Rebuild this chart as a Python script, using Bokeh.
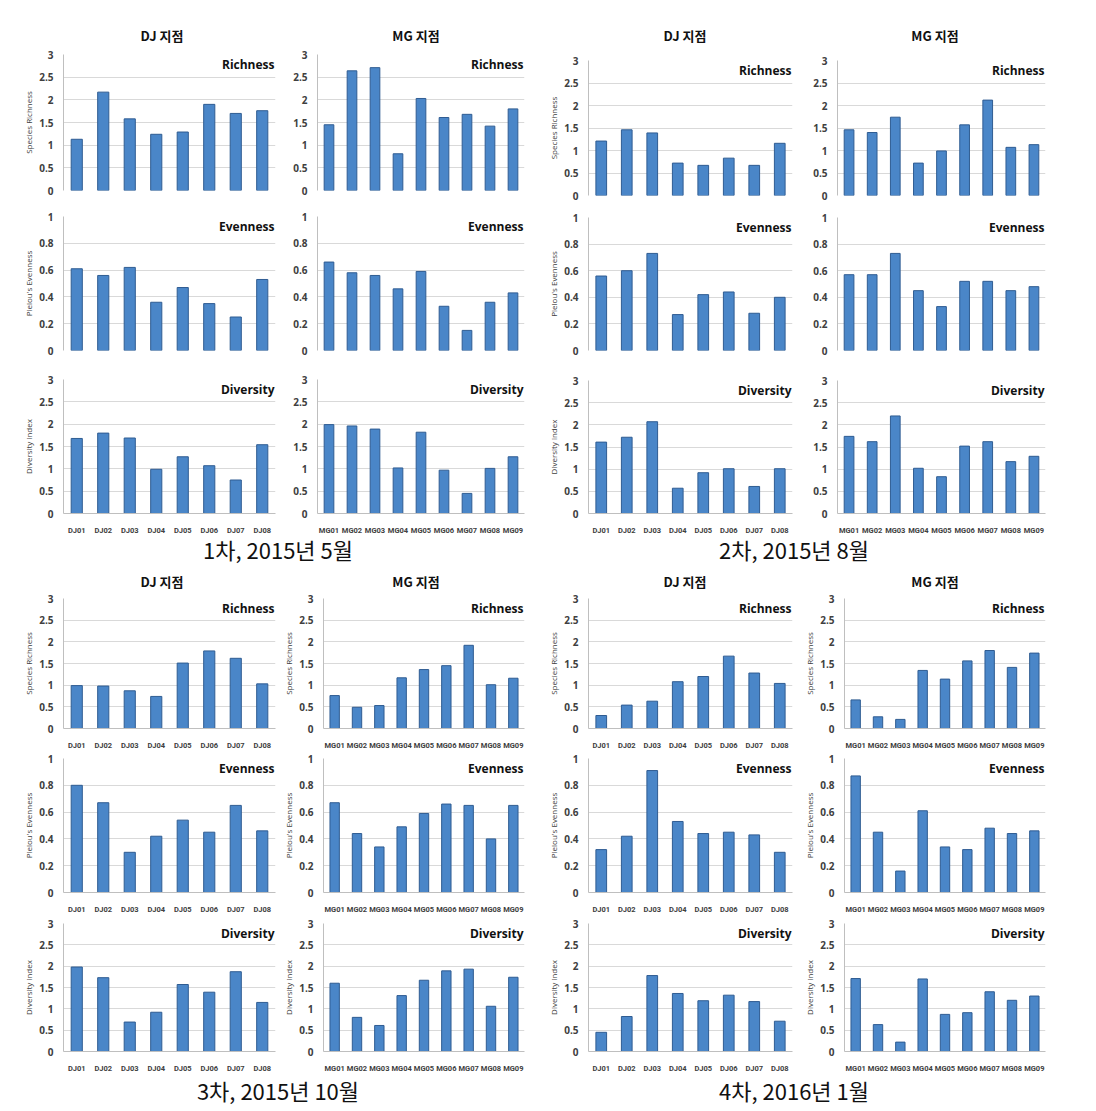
from bokeh.plotting import figure
from bokeh.layouts import column, row
from bokeh.models import (Range1d, FactorRange, FixedTicker, CustomJSTickFormatter,
                          Label, Div, Spacer, ColumnDataSource)
from bokeh.embed import file_html
from bokeh.resources import INLINE

# ---------------- data ----------------
DJ_SITES = ["DJ01", "DJ02", "DJ03", "DJ04", "DJ05", "DJ06", "DJ07", "DJ08"]
MG_SITES = ["MG01", "MG02", "MG03", "MG04", "MG05", "MG06", "MG07", "MG08", "MG09"]

METRICS = ["Richness", "Evenness", "Diversity"]
Y_LABELS = ["Species Richness", "Pielou's Evenness", "Diversity index"]
SITE_TITLES = ["DJ 지점", "MG 지점"]
CAPTIONS = ["1차, 2015년 5월", "2차, 2015년 8월", "3차, 2015년 10월", "4차, 2016년 1월"]

RICH_TICKS = [0, 0.5, 1, 1.5, 2, 2.5, 3]
EVEN_TICKS = [0, 0.2, 0.4, 0.6, 0.8, 1]

# 1st survey, 2015-05
s1_dj_richness = [1.13, 2.17, 1.58, 1.24, 1.29, 1.90, 1.70, 1.76]
s1_mg_richness = [1.45, 2.64, 2.71, 0.81, 2.03, 1.61, 1.68, 1.42, 1.80]
s1_dj_evenness = [0.61, 0.56, 0.62, 0.36, 0.47, 0.35, 0.25, 0.53]
s1_mg_evenness = [0.66, 0.58, 0.56, 0.46, 0.59, 0.33, 0.15, 0.36, 0.43]
s1_dj_diversity = [1.68, 1.80, 1.69, 0.99, 1.27, 1.07, 0.75, 1.54]
s1_mg_diversity = [1.99, 1.96, 1.89, 1.02, 1.82, 0.97, 0.45, 1.01, 1.27]

# 2nd survey, 2015-08
s2_dj_richness = [1.21, 1.46, 1.39, 0.72, 0.67, 0.83, 0.67, 1.16]
s2_mg_richness = [1.46, 1.40, 1.74, 0.72, 0.99, 1.57, 2.12, 1.07, 1.13]
s2_dj_evenness = [0.56, 0.60, 0.73, 0.27, 0.42, 0.44, 0.28, 0.40]
s2_mg_evenness = [0.57, 0.57, 0.73, 0.45, 0.33, 0.52, 0.52, 0.45, 0.48]
s2_dj_diversity = [1.61, 1.72, 2.07, 0.57, 0.92, 1.01, 0.61, 1.01]
s2_mg_diversity = [1.74, 1.62, 2.20, 1.02, 0.83, 1.52, 1.62, 1.17, 1.29]

# 3rd survey, 2015-10
s3_dj_richness = [0.99, 0.98, 0.87, 0.74, 1.51, 1.79, 1.62, 1.03]
s3_mg_richness = [0.76, 0.49, 0.53, 1.17, 1.36, 1.45, 1.92, 1.01, 1.16]
s3_dj_evenness = [0.80, 0.67, 0.30, 0.42, 0.54, 0.45, 0.65, 0.46]
s3_mg_evenness = [0.67, 0.44, 0.34, 0.49, 0.59, 0.66, 0.65, 0.40, 0.65]
s3_dj_diversity = [1.98, 1.73, 0.69, 0.92, 1.57, 1.39, 1.87, 1.15]
s3_mg_diversity = [1.60, 0.80, 0.61, 1.31, 1.67, 1.89, 1.93, 1.06, 1.74]

# 4th survey, 2016-01
s4_dj_richness = [0.30, 0.54, 0.63, 1.08, 1.20, 1.67, 1.28, 1.04]
s4_mg_richness = [0.66, 0.27, 0.21, 1.34, 1.14, 1.56, 1.80, 1.41, 1.74]
s4_dj_evenness = [0.32, 0.42, 0.91, 0.53, 0.44, 0.45, 0.43, 0.30]
s4_mg_evenness = [0.87, 0.45, 0.16, 0.61, 0.34, 0.32, 0.48, 0.44, 0.46]
s4_dj_diversity = [0.45, 0.82, 1.78, 1.36, 1.19, 1.32, 1.17, 0.71]
s4_mg_diversity = [1.71, 0.63, 0.22, 1.70, 0.87, 0.91, 1.40, 1.20, 1.30]

SURVEYS = [
    {"dj": [s1_dj_richness, s1_dj_evenness, s1_dj_diversity],
     "mg": [s1_mg_richness, s1_mg_evenness, s1_mg_diversity]},
    {"dj": [s2_dj_richness, s2_dj_evenness, s2_dj_diversity],
     "mg": [s2_mg_richness, s2_mg_evenness, s2_mg_diversity]},
    {"dj": [s3_dj_richness, s3_dj_evenness, s3_dj_diversity],
     "mg": [s3_mg_richness, s3_mg_evenness, s3_mg_diversity]},
    {"dj": [s4_dj_richness, s4_dj_evenness, s4_dj_diversity],
     "mg": [s4_mg_richness, s4_mg_evenness, s4_mg_diversity]},
]

# ---------------- style ----------------
BAR_FILL = "#4A86C8"
BAR_LINE = "#2F5C92"
GRID = "#D9D9D9"
AXIS = "#BFBFBF"
TXT = "#404040"
FONT = "Open Sans"
XFONT = "Roboto"
KFONT = "Noto Sans CJK KR"

# horizontal specs (width, min_border_left, min_border_right) for DJ, MG
HSPEC = {
    "left": [(280, 63, 5), (265, 37, 21)],
    "right": [(256, 39, 9), (295, 36, 51)],
}
# vertical specs per survey: (height, border_top, border_bottom) per metric
VSPEC = [
    [(157, 8, 13), (162, 13, 15), (172, 14, 24)],
    [(159, 14, 10), (161, 12, 16), (171, 14, 24)],
    [(160, 6, 18), (164, 6, 18), (159, 7, 18)],
    [(160, 6, 18), (164, 6, 18), (159, 7, 18)],
]


def panel(sites, vals, mi, w, h, bl, br, bt, bb, show_x, ylabel):
    metric = METRICS[mi]
    ticks = EVEN_TICKS if metric == "Evenness" else RICH_TICKS
    ymax = ticks[-1]
    p = figure(x_range=FactorRange(*sites), y_range=Range1d(0, ymax),
               width=w, height=h, output_backend="svg", toolbar_location=None,
               min_border_left=bl, min_border_right=br,
               min_border_top=bt, min_border_bottom=bb)
    p.outline_line_color = None
    p.background_fill_color = "white"
    p.border_fill_color = "white"
    src = ColumnDataSource(dict(site=sites, v=vals))
    p.vbar(x="site", top="v", width=0.42, source=src,
           fill_color=BAR_FILL, line_color=BAR_LINE, line_width=1)

    p.xgrid.visible = False
    p.ygrid.ticker = FixedTicker(ticks=ticks)
    p.ygrid.grid_line_color = GRID
    p.ygrid.grid_line_width = 1

    ya = p.yaxis[0]
    ya.ticker = FixedTicker(ticks=ticks)
    ya.formatter = CustomJSTickFormatter(code="return String(tick)")
    ya.axis_line_color = AXIS
    ya.major_tick_line_color = None
    ya.minor_tick_line_color = None
    ya.major_label_standoff = 4
    ya.major_label_text_font = FONT
    ya.major_label_text_font_size = "10px"
    ya.major_label_text_font_style = "bold"
    ya.major_label_text_color = TXT
    if ylabel:
        ya.axis_label = ylabel
        ya.axis_label_text_font = FONT
        ya.axis_label_text_font_size = "8px"
        ya.axis_label_text_font_style = "normal"
        ya.axis_label_text_color = TXT
        ya.axis_label_standoff = 2

    xa = p.xaxis[0]
    if show_x:
        xa.axis_line_color = AXIS
        xa.major_tick_line_color = None
        xa.minor_tick_line_color = None
        xa.major_label_text_font = XFONT
        xa.major_label_text_color = TXT
        xa.major_label_text_font_style = "bold"
        xa.major_label_text_font_size = "7.5px"
        xa.major_label_standoff = 6
    else:
        # no category labels on this panel: the zero grid line is the baseline
        xa.visible = False

    p.add_layout(Label(x=len(sites), y=ymax, x_offset=-1, y_offset=-10,
                       text=metric, text_align="right", text_baseline="middle",
                       text_font=FONT, text_font_size="12px",
                       text_font_style="bold", text_color="#111111"))
    return p


def quadrant(qi, side):
    data = SURVEYS[qi]
    later = qi >= 2
    rows = []
    for mi in range(3):
        h, bt, bb = VSPEC[qi][mi]
        figs = []
        for si, key in enumerate(["dj", "mg"]):
            sites = DJ_SITES if key == "dj" else MG_SITES
            w, bl, br = HSPEC[side][si]
            show_x = later or METRICS[mi] == "Diversity"
            ylabel = Y_LABELS[mi] if (key == "dj" or later) else None
            figs.append(panel(sites, data[key][mi], mi, w, h, bl, br, bt, bb,
                              show_x, ylabel))
        rows.append(row(*figs, spacing=0))
    return column(*rows, spacing=0)


def text_div(txt, w, h, size, weight, lh):
    html = ('<div style="width:%dpx;text-align:center;font-family:\'%s\';'
            'font-size:%dpx;font-weight:%s;color:#111;line-height:%dpx;'
            'white-space:nowrap;">%s</div>' % (w, KFONT, size, weight, lh, txt))
    return Div(text=html, width=w, height=h, margin=0)


def title_row():
    # left quadrant: DJ centre ~162, MG centre ~416; right: DJ ~685, MG ~935
    return row(text_div(SITE_TITLES[0], 324, 20, 13, "bold", 20),
               text_div(SITE_TITLES[1], 184, 20, 13, "bold", 20),
               Spacer(width=37, height=20),
               text_div(SITE_TITLES[0], 280, 20, 13, "bold", 20),
               text_div(SITE_TITLES[1], 220, 20, 13, "bold", 20),
               Spacer(width=51, height=20), spacing=0)


def caption_row(a, b, h, lh):
    return row(text_div(a, 556, h, 22, "normal", lh),
               text_div(b, 476, h, 22, "normal", lh),
               Spacer(width=64, height=h), spacing=0)


layout = column(
    Spacer(width=1096, height=26),
    title_row(),
    row(quadrant(0, "left"), quadrant(1, "right"), spacing=0),
    caption_row(CAPTIONS[0], CAPTIONS[1], 31, 24),
    Spacer(width=1096, height=4),
    title_row(),
    row(quadrant(2, "left"), quadrant(3, "right"), spacing=0),
    caption_row(CAPTIONS[2], CAPTIONS[3], 30, 30),
    spacing=0,
)

open("out.html", "w").write(file_html(layout, INLINE, title="Diversity indices"))
